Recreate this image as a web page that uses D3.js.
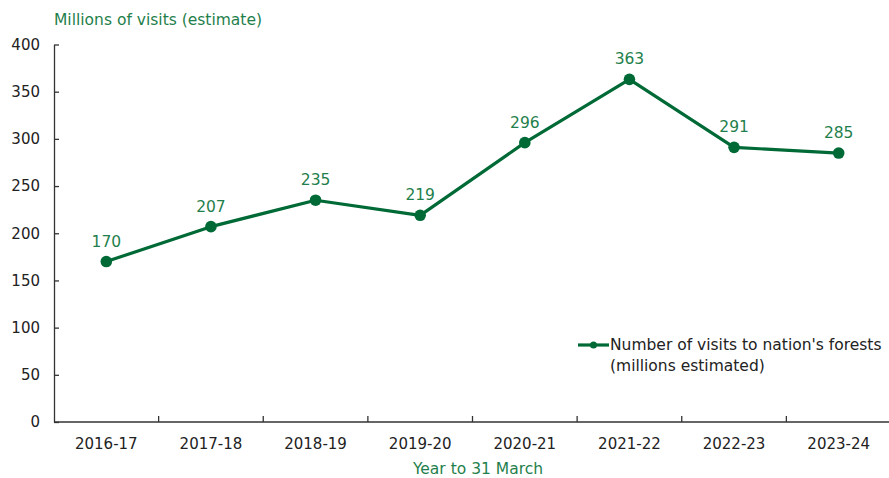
<!DOCTYPE html>
<html>
<head>
<meta charset="utf-8">
<script src="https://cdn.jsdelivr.net/npm/d3@7"></script>
<style>
  html, body { margin: 0; padding: 0; background: #fff; }
  svg { display: block; font-family: "DejaVu Sans", Verdana, sans-serif; }
</style>
</head>
<body>
<svg id="chart" width="889" height="478"></svg>
<script>
// Visits to the nation's forests, by year to 31 March (millions, estimated)
const years = ["2016-17", "2017-18", "2018-19", "2019-20", "2020-21", "2021-22", "2022-23", "2023-24"];
const visits = [170, 207, 235, 219, 296, 363, 291, 285];
const yTicks = [0, 50, 100, 150, 200, 250, 300, 350, 400];

const lineColor = "#006a37";
const labelColor = "#1f7f4c";
const textColor = "#222";

const svg = d3.select("#chart");
const margin = { left: 54, top: 44.5, bottom: 422 };

const x = d3.scaleBand().domain(years).range([margin.left, 891]);
const y = d3.scaleLinear().domain([0, 400]).range([margin.bottom, margin.top]);

// Y axis with inward ticks
const yAxis = svg.append("g")
  .attr("transform", `translate(${margin.left},0)`)
  .call(d3.axisLeft(y).tickValues(yTicks).tickSizeInner(-5).tickSizeOuter(0).tickPadding(14));
yAxis.select(".domain").attr("stroke", "#333").attr("stroke-width", 1.3);
yAxis.selectAll(".tick line").attr("stroke", "#333").attr("stroke-width", 1.3);
yAxis.selectAll("text").attr("font-size", 15).attr("fill", textColor)
  .attr("font-family", "DejaVu Sans, sans-serif");

// X axis: ticks at band boundaries, pointing up
const xg = svg.append("g").attr("transform", `translate(0,${margin.bottom})`);
xg.append("line")
  .attr("x1", margin.left).attr("x2", 889)
  .attr("stroke", "#333").attr("stroke-width", 1.3);
xg.selectAll("line.b")
  .data(years.slice(1))
  .join("line")
  .attr("class", "b")
  .attr("x1", d => x(d)).attr("x2", d => x(d))
  .attr("y1", 0).attr("y2", -6)
  .attr("stroke", "#333").attr("stroke-width", 1.3);
xg.selectAll("text")
  .data(years)
  .join("text")
  .attr("x", d => x(d) + x.bandwidth() / 2)
  .attr("y", 27)
  .attr("text-anchor", "middle")
  .attr("font-size", 15)
  .attr("fill", textColor)
  .text(d => d);

// Axis titles
svg.append("text")
  .attr("x", 54).attr("y", 25)
  .attr("font-size", 15.5).attr("fill", labelColor)
  .text("Millions of visits (estimate)");
svg.append("text")
  .attr("x", 478).attr("y", 474)
  .attr("text-anchor", "middle")
  .attr("font-size", 15.5).attr("fill", labelColor)
  .text("Year to 31 March");

// Series line and markers
const pts = years.map((d, i) => ({ year: d, value: visits[i] }));
const cx = d => x(d.year) + x.bandwidth() / 2;

svg.append("path")
  .datum(pts)
  .attr("fill", "none")
  .attr("stroke", lineColor)
  .attr("stroke-width", 3.2)
  .attr("stroke-linejoin", "round")
  .attr("d", d3.line().x(cx).y(d => y(d.value)));

svg.selectAll("circle.pt")
  .data(pts)
  .join("circle")
  .attr("class", "pt")
  .attr("cx", cx)
  .attr("cy", d => y(d.value))
  .attr("r", 5.8)
  .attr("fill", lineColor);

svg.selectAll("text.val")
  .data(pts)
  .join("text")
  .attr("class", "val")
  .attr("x", cx)
  .attr("y", d => y(d.value) - 15)
  .attr("text-anchor", "middle")
  .attr("font-size", 15.5)
  .attr("fill", labelColor)
  .text(d => d.value);

// Legend
const lg = svg.append("g").attr("transform", "translate(578,345)");
lg.append("line").attr("x1", 0).attr("x2", 31).attr("y1", 0).attr("y2", 0)
  .attr("stroke", lineColor).attr("stroke-width", 3.2);
lg.append("circle").attr("cx", 15.5).attr("cy", 0).attr("r", 3.5).attr("fill", lineColor);
lg.append("text").attr("x", 32).attr("y", 4.5)
  .attr("font-size", 15.5).attr("fill", textColor)
  .text("Number of visits to nation's forests");
lg.append("text").attr("x", 32).attr("y", 25.5)
  .attr("font-size", 15.5).attr("fill", textColor)
  .text("(millions estimated)");
</script>
</body>
</html>
